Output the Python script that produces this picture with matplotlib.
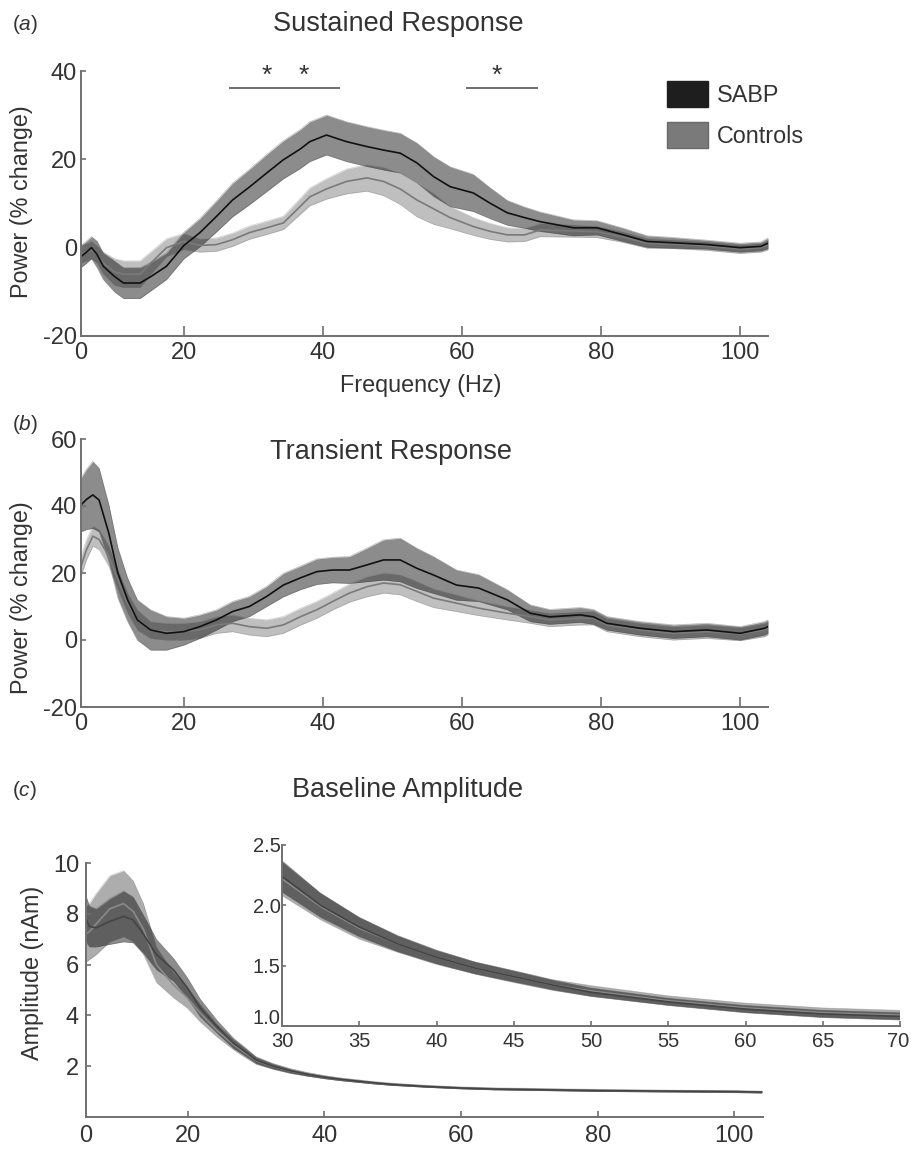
import numpy as np
import matplotlib
matplotlib.use("Agg")
import matplotlib.pyplot as plt
import matplotlib.transforms as mtransforms
from matplotlib.patches import Patch

plt.rcParams['font.family'] = ['Liberation Sans', 'DejaVu Sans']
plt.rcParams['mathtext.fontset'] = 'custom'
plt.rcParams['mathtext.rm'] = 'Liberation Sans'
plt.rcParams['mathtext.it'] = 'Liberation Sans:italic'

# ---------------- data ----------------
# Panel a: sustained response
freq_a = [5.2, 6.0, 6.7, 7.5, 8.4, 10, 11.3, 13.7, 15.3, 17.5, 20, 22.3, 24.7, 27, 29.4,
          31.9, 34.3, 36.7, 38.1, 40.5, 43.4, 46.3, 48.7, 51.1, 53.5, 55.9, 58.3, 61.6,
          64, 66.5, 69, 71.2, 76, 79.4, 83.2, 86.6, 90.4, 95.2, 100, 103, 104]
sabp_a = [-2.0, -1.0, 0.0, -1.5, -4.2, -6.5, -8.0, -8.0, -6.5, -4.2, 0.5, 3.4, 7.1, 10.8,
          13.7, 16.9, 19.9, 22.3, 24.0, 25.5, 24.0, 22.9, 22.1, 21.4, 19.2, 16.1, 13.8,
          12.4, 10.1, 7.9, 6.8, 5.9, 4.5, 4.5, 2.9, 1.4, 1.1, 0.7, 0.0, 0.3, 1.0]
sabp_a_sem = [2.5, 2.5, 2.5, 3, 3, 3.5, 3.5, 3.5, 3.2, 3, 3, 3.2, 3.5, 3.8, 4, 4.2, 4.3,
              4.4, 4.5, 4.5, 4.5, 4.5, 4.5, 4.5, 4.5, 4.5, 4.5, 4.2, 3.5, 2.8, 2.4, 2.2,
              1.8, 1.6, 1.5, 1.3, 1.2, 1.0, 1.0, 1.0, 1.2]
ctrl_a = [-1.5, -1.0, -0.5, -1.5, -3.5, -5.5, -6.0, -6.0, -3.4, 0.0, 1.4, 0.5, 0.7, 1.8,
          3.4, 4.5, 5.6, 9.3, 11.5, 13.3, 15.0, 15.8, 15.0, 13.3, 10.8, 8.8, 6.8, 4.8,
          3.7, 2.9, 2.9, 4.0, 3.8, 3.6, 2.4, 1.0, 0.8, 0.4, -0.3, 0.0, 0.6]
ctrl_a_sem = [2, 2, 2, 2, 2.5, 3, 3, 3, 2.5, 2, 1.8, 1.5, 1.5, 1.5, 1.5, 1.5, 1.5, 1.8, 2,
              2.3, 2.8, 3, 3.2, 3.5, 3.8, 3.5, 2.5, 2, 1.8, 1.6, 1.5, 1.5, 1.4, 1.3, 1.2,
              1.1, 1, 1, 1, 1, 1.1]

# Panel b: transient response
freq_b = [5.2, 6.0, 6.9, 7.8, 9.2, 10.5, 11.9, 13.3, 15.2, 17.5, 20, 22.3, 24.7, 27, 29.4,
          31.9, 34.3, 36.7, 39.1, 41.4, 43.8, 46.3, 48.7, 51.1, 53.5, 55.9, 59.2, 62.4,
          66.5, 69.8, 72.6, 77, 78.9, 80.8, 85.6, 90.4, 95.2, 100, 103.5, 104]
sabp_b = [40.3, 42, 43.3, 41.8, 31.9, 20, 12, 6, 3, 2, 2.5, 4, 6, 8.5, 10, 13, 16.4, 18.5,
          20.4, 20.9, 20.9, 22.4, 23.9, 23.9, 21.4, 19.4, 16.4, 15.5, 12, 8, 6.9, 7.5,
          6.9, 5, 3.5, 2.5, 3, 2, 3.5, 4]
sabp_b_sem = [8, 9, 10, 9.5, 8.5, 7.5, 6.5, 6, 6, 5, 4, 3.5, 3, 3, 3, 3, 3.5, 3.5, 3.8,
              3.8, 4, 5, 6, 6.5, 6, 5.5, 4.5, 4, 3, 2.5, 2.2, 2.2, 2.2, 2, 2, 2, 2, 2, 2, 2]
ctrl_b = [22, 27, 31, 30, 25, 18, 11, 6, 3, 2.5, 2.5, 3, 4.5, 5, 4, 3.5, 4.5, 6.9, 9, 11.5,
          14, 15.9, 17, 16.5, 14.5, 12.5, 11, 9.5, 8, 7, 6, 6.5, 6.5, 4.5, 3, 2, 2.5, 1.8,
          3, 3.5]
ctrl_b_sem = [3, 3, 3, 3, 3, 3, 3, 3, 2.5, 2.5, 2.5, 2.5, 2.5, 2.5, 2.5, 2.5, 2.5, 2.5,
              2.5, 2.5, 2.7, 3, 3, 3, 3, 2.8, 2.5, 2.2, 2, 2, 2, 2, 2, 2, 2, 2, 2, 2, 2, 2]

# Panel c: baseline amplitude
freq_c = [5.1, 5.6, 6.6, 8.6, 10.6, 12.0, 13.5, 15.4, 17.9, 19.9, 21.8, 24.3, 26.7, 28.5,
          30, 32.5, 35, 37.5, 40, 42.5, 45, 47.5, 50, 55, 60, 65, 70, 80, 90, 100, 104]
sabp_c = [7.8, 7.5, 7.45, 7.7, 7.9, 7.76, 7.2, 6.4, 5.8, 5.1, 4.3, 3.55, 2.9, 2.55, 2.24,
          2.0, 1.82, 1.68, 1.57, 1.48, 1.41, 1.34, 1.28, 1.20, 1.14, 1.10, 1.08, 1.04,
          1.02, 1.0, 0.98]
sabp_c_sem = [0.9, 0.8, 0.75, 0.9, 1.0, 0.9, 0.75, 0.6, 0.45, 0.4, 0.35, 0.25, 0.2, 0.16,
              0.13, 0.1, 0.08, 0.065, 0.055, 0.05, 0.045, 0.04, 0.035, 0.03, 0.03, 0.03,
              0.03, 0.03, 0.03, 0.03, 0.03]
ctrl_c = [7.2, 7.3, 7.6, 8.2, 8.4, 8.1, 7.4, 6.0, 5.2, 4.7, 4.1, 3.4, 2.85, 2.5, 2.22,
          1.99, 1.81, 1.68, 1.57, 1.48, 1.41, 1.34, 1.29, 1.21, 1.15, 1.11, 1.09, 1.05,
          1.02, 1.0, 0.98]
ctrl_c_sem = [1.1, 1.1, 1.2, 1.3, 1.3, 1.2, 1.0, 0.7, 0.5, 0.4, 0.35, 0.25, 0.2, 0.17,
              0.14, 0.11, 0.09, 0.07, 0.06, 0.05, 0.05, 0.045, 0.045, 0.04, 0.04, 0.04,
              0.04, 0.04, 0.04, 0.04, 0.04]

sig_bars = [(26.6, 42.3), (60.7, 70.8)]
sig_stars = [31.9, 37.3, 65.0]
xticks_main = [20, 40, 60, 80, 100]
inset_xticks = [30, 35, 40, 45, 50, 55, 60, 65, 70]
inset_yticks = [1.0, 1.5, 2.0, 2.5]
legend_labels = ["SABP", "Controls"]

# ---------------- style ----------------
TXT = '#333333'
SPINE = '#707070'
FS_TICK = 17
FS_LAB = 16.8
FS_TITLE = 19.5

fig = plt.figure(figsize=(9.11, 11.5), dpi=100)

def px(x, y, w, h):
    W, H = 911.0, 1150.0
    return [x / W, 1 - (y + h) / H, w / W, h / H]

def style_axes(ax, xt, xtl, yt, ytl, fs=FS_TICK, xlen=7, ylen=3.5, xpad=3, ypad=3):
    for s in ['top', 'right']:
        ax.spines[s].set_visible(False)
    for s in ['left', 'bottom']:
        ax.spines[s].set_color(SPINE)
        ax.spines[s].set_linewidth(1.4)
    ax.set_xticks(xt)
    ax.set_xticklabels(xtl)
    ax.set_yticks(yt)
    ax.set_yticklabels(ytl)
    ax.tick_params(axis='x', direction='in', length=xlen, width=1.2, color=SPINE,
                   labelsize=fs, labelcolor=TXT, pad=xpad)
    ax.tick_params(axis='y', direction='in', length=ylen, width=1.2, color=SPINE,
                   labelsize=fs, labelcolor=TXT, pad=ypad)

def draw_bands(ax, f, m1, s1, m2, s2, a_ctrl=0.25, a_sabp=0.45, c1='#7a7a7a', c2='#111111'):
    f = np.asarray(f)
    m1, s1, m2, s2 = map(np.asarray, (m1, s1, m2, s2))
    # controls (light)
    ax.fill_between(f, m2 - s2, m2 + s2, color='black', alpha=a_ctrl, lw=0)
    ax.plot(f, m2 - s2, color='0.45', lw=0.5, alpha=0.35)
    ax.plot(f, m2 + s2, color='0.45', lw=0.5, alpha=0.35)
    # SABP (dark)
    ax.fill_between(f, m1 - s1, m1 + s1, color='black', alpha=a_sabp, lw=0)
    ax.plot(f, m1 - s1, color='0.3', lw=0.5, alpha=0.4)
    ax.plot(f, m1 + s1, color='0.3', lw=0.5, alpha=0.4)
    ax.plot(f, m2, color=c1, lw=1.2)
    ax.plot(f, m1, color=c2, lw=1.2)

# ---------- panel a ----------
axa = fig.add_axes(px(81, 71, 687, 265))
draw_bands(axa, freq_a, sabp_a, sabp_a_sem, ctrl_a, ctrl_a_sem)
xmin_a, xmax_a = 5.2, 104
axa.set_xlim(xmin_a, xmax_a)
axa.set_ylim(-20, 40)
style_axes(axa, [xmin_a] + xticks_main, ['0'] + [str(t) for t in xticks_main],
           [-20, 0, 20, 40], ['-20', '0', '20', '40'], xpad=4)
for (x0, x1) in sig_bars:
    axa.plot([x0, x1], [36.2, 36.2], color='#6e6e6e', lw=1.4, clip_on=False)
for xs in sig_stars:
    axa.text(xs, 39.0, '*', ha='center', va='center', fontsize=19, color=TXT,
             clip_on=False)
handles = [Patch(facecolor='#1e1e1e', edgecolor='#1e1e1e'),
           Patch(facecolor='#7a7a7a', edgecolor='#6a6a6a')]
fig.legend(handles, legend_labels, loc='upper left',
           bbox_to_anchor=(667 / 911, 1 - 81 / 1150), bbox_transform=fig.transFigure,
           frameon=False, fontsize=FS_LAB, handlelength=1.75, handleheight=1.35,
           handletextpad=0.38, labelspacing=0.62, borderpad=0, borderaxespad=0,
           labelcolor=TXT)

# ---------- panel b ----------
axb = fig.add_axes(px(81, 439, 687, 268))
draw_bands(axb, freq_b, sabp_b, sabp_b_sem, ctrl_b, ctrl_b_sem)
axb.set_xlim(xmin_a, xmax_a)
axb.set_ylim(-20, 60)
style_axes(axb, [xmin_a] + xticks_main, ['0'] + [str(t) for t in xticks_main],
           [-20, 0, 20, 40, 60], ['-20', '0', '20', '40', '60'], xpad=4)

# ---------- panel c ----------
axc = fig.add_axes(px(86, 863, 677, 254))
draw_bands(axc, freq_c, sabp_c, sabp_c_sem, ctrl_c, ctrl_c_sem, a_ctrl=0.32,
           a_sabp=0.45, c1='#8a8a8a', c2='#444444')
xmin_c, xmax_c = 5.1, 104.2
axc.set_xlim(xmin_c, xmax_c)
axc.set_ylim(0, 10)
style_axes(axc, [xmin_c] + xticks_main, ['0'] + [str(t) for t in xticks_main],
           [2, 4, 6, 8, 10], ['2', '4', '6', '8', '10'], xlen=4, ylen=3.5,
           xpad=6, ypad=5)

# ---------- inset ----------
axi = fig.add_axes(px(282, 845, 618, 181))
draw_bands(axi, freq_c, sabp_c, sabp_c_sem, ctrl_c, ctrl_c_sem, a_ctrl=0.32,
           a_sabp=0.45, c1='#8a8a8a', c2='#444444')
axi.set_xlim(30, 70)
axi.set_ylim(1.0, 2.5)
axi.patch.set_alpha(0)
style_axes(axi, inset_xticks, [str(t) for t in inset_xticks], inset_yticks,
           ['%.1f' % t for t in inset_yticks], fs=14.5, xlen=3.5, ylen=3,
           xpad=4, ypad=1)
# in the reference the lowest inset label sits a little above its tick
lab0 = axi.get_yticklabels()[0]
lab0.set_transform(lab0.get_transform() +
                   mtransforms.ScaledTranslation(0, 9 / 100, fig.dpi_scale_trans))
labx = axi.get_xticklabels()[-1]
labx.set_transform(labx.get_transform() +
                   mtransforms.ScaledTranslation(-2 / 100, 0, fig.dpi_scale_trans))

# ---------- texts ----------
def ftext(x, y, s, **kw):
    fig.text(x / 911, 1 - y / 1150, s, **kw)

ftext(12, 24, r'($\mathit{a}$)', fontsize=15, color=TXT, ha='left', va='center')
ftext(12, 425, r'($\mathit{b}$)', fontsize=15, color=TXT, ha='left', va='center')
ftext(12, 790, r'($\mathit{c}$)', fontsize=15, color=TXT, ha='left', va='center')
ftext(398, 24, 'Sustained Response', fontsize=FS_TITLE, color=TXT, ha='center', va='center')
ftext(391, 452, 'Transient Response', fontsize=FS_TITLE, color=TXT, ha='center', va='center')
ftext(408, 790, 'Baseline Amplitude', fontsize=FS_TITLE, color=TXT, ha='center', va='center')
ftext(421, 385, 'Frequency (Hz)', fontsize=FS_LAB, color=TXT, ha='center', va='center')
ftext(22, 202, 'Power (% change)', fontsize=FS_LAB, color=TXT, ha='center', va='center',
      rotation=90)
ftext(22, 598, 'Power (% change)', fontsize=FS_LAB, color=TXT, ha='center', va='center',
      rotation=90)
ftext(33, 973, 'Amplitude (nAm)', fontsize=FS_LAB, color=TXT, ha='center', va='center',
      rotation=90)

fig.savefig('out.png', dpi=100, facecolor='white')
